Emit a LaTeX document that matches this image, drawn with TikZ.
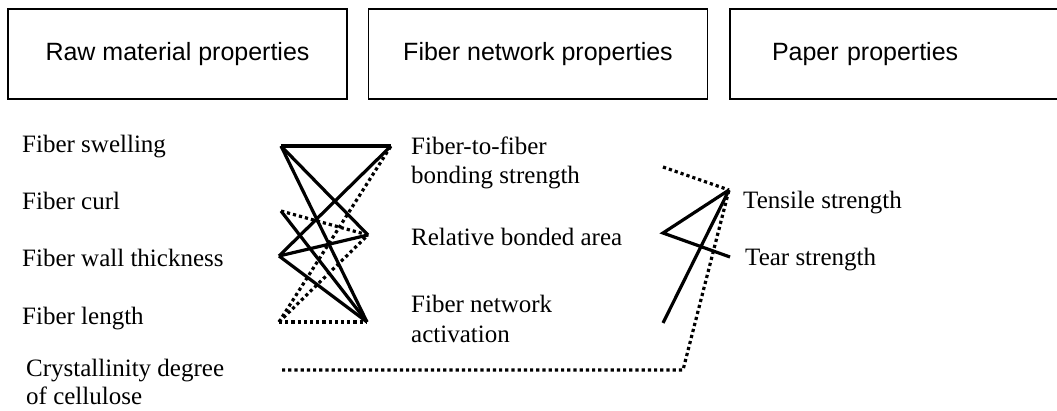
\documentclass[tikz,border=0pt]{standalone}
\usepackage{fontspec}
\setmainfont{Liberation Serif}
\setsansfont{Liberation Sans}
\usetikzlibrary{positioning}

\begin{document}
\begin{tikzpicture}[
    x=1pt, y=-1pt,
    header/.style={rectangle, draw, line width=1.5pt, minimum width=339pt, minimum height=90pt, font=\sffamily\fontsize{25}{29}\selectfont},
    prop/.style={anchor=base west, inner sep=0pt, align=left, font=\fontsize{25}{29}\selectfont},
    link/.style={line width=3.2pt},
    weak/.style={line width=3.2pt, dash pattern=on 3.2pt off 3pt}
]
\useasboundingbox (0,0) rectangle (1057,411);

% Headers
\node[header] (raw) at (177.5,54) {Raw material properties};
\node[header] (network) at (538,54) {Fiber network properties};
\node[header, text width=255pt, align=left, inner xsep=42pt] (paper) at (899.5,54) {Paper properties};

% Raw material properties
\node[prop] (swelling) at (22,153) {Fiber swelling};
\node[prop] (curl) at (22,210) {Fiber curl};
\node[prop] (wall) at (22,267) {Fiber wall thickness};
\node[prop] (length) at (22,325) {Fiber length};
\node[prop, font=\fontsize{25}{28}\selectfont] (cryst) at (26,404) {Crystallinity degree\\of cellulose};

% Fiber network properties
\node[prop] (bonding) at (411,184) {Fiber-to-fiber\\bonding strength};
\node[prop] (area) at (411,246) {Relative bonded area};
\node[prop] (activ) at (411,342) {Fiber network\\activation};

% Paper properties
\node[prop] (tensile) at (743,209) {Tensile strength};
\node[prop] (tear) at (745,266) {Tear strength};

% Line ends
\coordinate (sw-e) at (281,146);
\coordinate (cu-e) at (281,211);
\coordinate (wa-e) at (279,256);
\coordinate (le-e) at (279,322);
\coordinate (cr-e) at (282,370);
\coordinate (bo-w) at (391,146);
\coordinate (ar-w) at (368,235);
\coordinate (ac-w) at (367,322);
\coordinate (bo-e) at (663,167);
\coordinate (ar-e) at (663,233);
\coordinate (ac-e) at (663,323);
\coordinate (te-w) at (729,190);
\coordinate (ta-w) at (730,257);
\coordinate (cr-k) at (683,370);

% Raw material -> fiber network
\draw[link] (sw-e) -- (bo-w);
\draw[link] (sw-e) -- (ar-w);
\draw[link] (sw-e) -- (ac-w);
\draw[weak] (cu-e) -- (ar-w);
\draw[link] (cu-e) -- (ac-w);
\draw[link] (wa-e) -- (bo-w);
\draw[link] (wa-e) -- (ar-w);
\draw[link] (wa-e) -- (ac-w);
\draw[weak] (le-e) -- (bo-w);
\draw[weak] (le-e) -- (ar-w);
\draw[weak] (le-e) -- (ac-w);

% Fiber network -> paper
\draw[weak] (bo-e) -- (te-w);
\draw[link] (te-w) -- (ar-e) -- (ta-w);
\draw[link] (ac-e) -- (te-w);
\draw[weak] (cr-e) -- (cr-k) -- (te-w);
\end{tikzpicture}
\end{document}
